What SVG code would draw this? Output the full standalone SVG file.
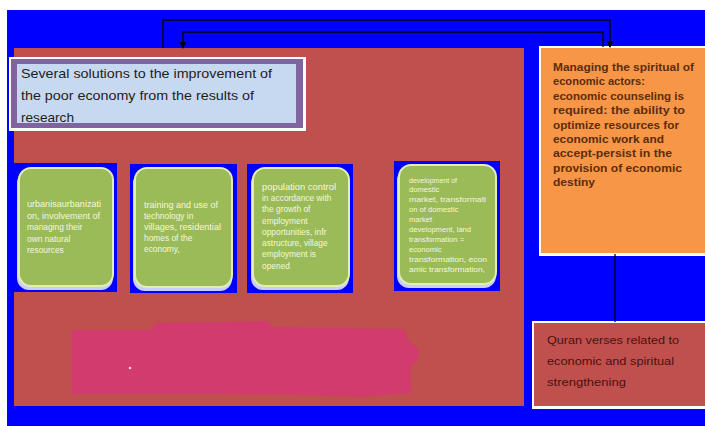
<svg xmlns="http://www.w3.org/2000/svg" width="705" height="426" viewBox="0 0 705 426">
<defs>
<style>
.bluebg{fill:#0000ff}
.green{fill:#9bbb59;stroke:#e3edb8;stroke-width:2}
.glow{fill:#eef0ff;opacity:0.85}
.gt{font-family:"Liberation Sans",Arial,sans-serif;font-size:8.4px;fill:#f3f7de}
.gt4{font-family:"Liberation Sans",Arial,sans-serif;font-size:7.6px;fill:#f3f7de}
.tt{font-family:"Liberation Sans",Arial,sans-serif;font-size:13px;fill:#1e1e1e}
.ot{font-family:"Liberation Sans",Arial,sans-serif;font-size:11.5px;font-weight:bold;fill:#5b2d0e}
.qt{font-family:"Liberation Sans",Arial,sans-serif;font-size:11.5px;fill:#4a1010}
.conn{fill:none;stroke:#000;stroke-width:1.3}
</style>
<marker id="arr" viewBox="0 0 8 8" refX="7" refY="4" markerWidth="7" markerHeight="7" orient="auto" markerUnits="userSpaceOnUse">
<path d="M0,0 L8,4 L0,8 z" fill="#000"/>
</marker>
</defs>
<rect x="0" y="0" width="705" height="426" fill="#ffffff"/>
<rect x="7" y="10" width="698" height="416" class="bluebg"/>
<g id="main-panel">
<rect x="14" y="48" width="510" height="358" fill="#c0504d"/>
<path d="M72,330 L152,330 L154,323 L268,321 L272,327 L404,329 L408,340 L419,350 L417,362 L410,366 L412,393 L360,397 L300,395 L200,394 L72,394 Z" fill="#d13b6e"/>
<circle cx="130" cy="368" r="1.3" fill="#f4d8e4"/>
</g>
<g id="title">
<rect x="9" y="57" width="297" height="74" fill="#ffffff"/>
<rect x="11" y="59" width="292" height="69" fill="#8064a2"/>
<rect x="17" y="64" width="279" height="59" fill="#c6d9f1"/>
<text class="tt" x="21" y="78" textLength="251" lengthAdjust="spacingAndGlyphs">Several solutions to the improvement of</text>
<text class="tt" x="21" y="100" textLength="233" lengthAdjust="spacingAndGlyphs">the poor economy from the results of</text>
<text class="tt" x="21" y="122" textLength="53" lengthAdjust="spacingAndGlyphs">research</text>
</g>
<g id="box1">
<rect x="14" y="163" width="103" height="129" class="bluebg"/>
<rect x="17" y="171" width="96" height="119" rx="12" class="glow"/>
<rect x="19" y="168" width="94" height="118" rx="12" class="green"/>
<text class="gt" x="27" y="207" textLength="74" lengthAdjust="spacingAndGlyphs">urbanisaurbanizati</text>
<text class="gt" x="27" y="219" textLength="73" lengthAdjust="spacingAndGlyphs">on, involvement  of</text>
<text class="gt" x="27" y="230">managing their</text>
<text class="gt" x="27" y="242">own natural</text>
<text class="gt" x="27" y="253">resources</text>
</g>
<g id="box2">
<rect x="130" y="164" width="107" height="129" class="bluebg"/>
<rect x="133" y="171" width="99" height="120" rx="12" class="glow"/>
<rect x="135" y="168" width="97" height="119" rx="12" class="green"/>
<text class="gt" x="144" y="208" textLength="74" lengthAdjust="spacingAndGlyphs">training and use of</text>
<text class="gt" x="144" y="219">technology in</text>
<text class="gt" x="144" y="230" textLength="77" lengthAdjust="spacingAndGlyphs">villages, residential</text>
<text class="gt" x="144" y="241">homes of the</text>
<text class="gt" x="144" y="252">economy,</text>
</g>
<g id="box3">
<rect x="247" y="164" width="106" height="129" class="bluebg"/>
<rect x="251" y="171" width="98" height="119" rx="12" class="glow"/>
<rect x="253" y="168" width="96" height="118" rx="12" class="green"/>
<text class="gt" x="262" y="190" textLength="74" lengthAdjust="spacingAndGlyphs">population control</text>
<text class="gt" x="262" y="201">in accordance with</text>
<text class="gt" x="262" y="212">the growth of</text>
<text class="gt" x="262" y="224">employment</text>
<text class="gt" x="262" y="235">opportunities,  infr</text>
<text class="gt" x="262" y="246">astructure, village</text>
<text class="gt" x="262" y="257">employment is</text>
<text class="gt" x="262" y="269">opened</text>
</g>
<g id="box4">
<rect x="394" y="161" width="106" height="130" class="bluebg"/>
<rect x="397" y="168" width="99" height="120" rx="12" class="glow"/>
<rect x="399" y="165" width="97" height="119" rx="12" class="green"/>
<text class="gt4" x="409" y="183" textLength="48" lengthAdjust="spacingAndGlyphs">development of</text>
<text class="gt4" x="409" y="192">domestic</text>
<text class="gt4" x="409" y="202" textLength="77" lengthAdjust="spacingAndGlyphs">market, transformati</text>
<text class="gt4" x="409" y="212">on of domestic</text>
<text class="gt4" x="409" y="222">market</text>
<text class="gt4" x="409" y="232">development, land</text>
<text class="gt4" x="409" y="242">transformation =</text>
<text class="gt4" x="409" y="252">economic</text>
<text class="gt4" x="409" y="262" textLength="78" lengthAdjust="spacingAndGlyphs">transformation, econ</text>
<text class="gt4" x="409" y="272" textLength="76" lengthAdjust="spacingAndGlyphs">amic transformation,</text>
</g>
<g id="spiritual">
<rect x="539" y="46" width="170" height="210" fill="#ffffff"/>
<rect x="541" y="48" width="166" height="205" fill="#f79646"/>
<text class="ot" x="553" y="71" textLength="141" lengthAdjust="spacingAndGlyphs">Managing the spiritual of</text>
<text class="ot" x="553" y="85.4" textLength="92" lengthAdjust="spacingAndGlyphs">economic actors:</text>
<text class="ot" x="553" y="99.8" textLength="131" lengthAdjust="spacingAndGlyphs">economic counseling is</text>
<text class="ot" x="553" y="114.2" textLength="132" lengthAdjust="spacingAndGlyphs">required: the ability to</text>
<text class="ot" x="553" y="128.6" textLength="126" lengthAdjust="spacingAndGlyphs">optimize resources for</text>
<text class="ot" x="553" y="143" textLength="111" lengthAdjust="spacingAndGlyphs">economic work and</text>
<text class="ot" x="553" y="157.4" textLength="119" lengthAdjust="spacingAndGlyphs">accept-persist in the</text>
<text class="ot" x="553" y="171.8" textLength="129" lengthAdjust="spacingAndGlyphs">provision of economic</text>
<text class="ot" x="553" y="186.2" textLength="42" lengthAdjust="spacingAndGlyphs">destiny</text>
</g>
<g id="quran">
<rect x="532" y="321" width="177" height="88" fill="#ffffff"/>
<rect x="534" y="323" width="173" height="83" fill="#c0504d"/>
<text class="qt" x="547" y="344" textLength="132" lengthAdjust="spacingAndGlyphs">Quran verses related to</text>
<text class="qt" x="547" y="365" textLength="127" lengthAdjust="spacingAndGlyphs">economic and spiritual</text>
<text class="qt" x="547" y="386" textLength="79" lengthAdjust="spacingAndGlyphs">strengthening</text>
</g>
<g id="connectors">
<path class="conn" d="M163,48 V20 H610 V47" marker-end="url(#arr)"/>
<path class="conn" d="M603,47 V32 H183 V48" marker-end="url(#arr)"/>
<path class="conn" d="M615,254 V322"/>
</g>
</svg>
